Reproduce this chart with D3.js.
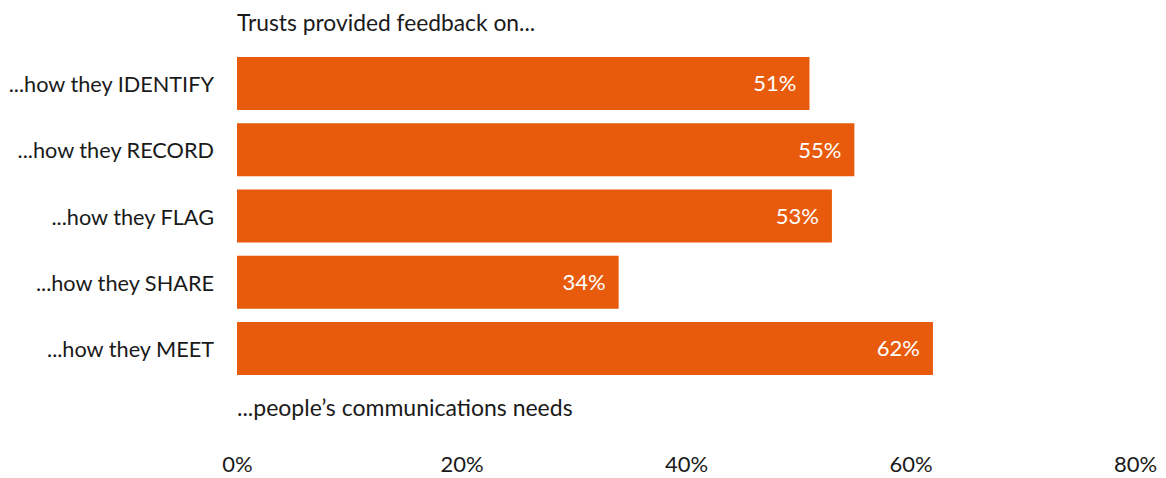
<!DOCTYPE html>
<html><head><meta charset="utf-8">
<script src="https://cdn.jsdelivr.net/npm/d3@7"></script>
<style>
html,body{margin:0;padding:0;background:#fff;}
svg text{font-family:Lato,"Noto Sans",sans-serif;}
</style></head>
<body><svg id="chart" width="1166" height="478"></svg>
<script>
const categories = ["...how they IDENTIFY","...how they RECORD","...how they FLAG","...how they SHARE","...how they MEET"];
const values = [51,55,53,34,62];
const tickValues = [0,20,40,60,80];
const titleText = "Trusts provided feedback on...";
const footText = "...people\u2019s communications needs";

const svg = d3.select("#chart");
const x = d3.scaleLinear().domain([0,80]).range([237,1135]);
const y = d3.scaleBand().domain(categories).range([43.75,388.25]).padding(0.2);
const orange = "#E95B0C";
const fs = 22;

svg.append("text").attr("x",237).attr("y",31).attr("font-size",22.8).attr("fill","#1a1a1a").text(titleText);

svg.selectAll("rect.bar").data(categories).join("rect").attr("class","bar")
  .attr("x",x(0)).attr("y",d=>y(d)).attr("height",y.bandwidth())
  .attr("width",(d,i)=>x(values[i])-x(0)).attr("fill",orange);

svg.selectAll("text.val").data(categories).join("text").attr("class","val")
  .attr("x",(d,i)=>x(values[i])-13).attr("y",d=>y(d)+y.bandwidth()/2)
  .attr("dy","0.36em").attr("text-anchor","end").attr("font-size",fs).attr("fill","#fff")
  .text((d,i)=>values[i]+"%");

svg.selectAll("text.cat").data(categories).join("text").attr("class","cat")
  .attr("x",214).attr("y",d=>y(d)+y.bandwidth()/2)
  .attr("dy","0.4em").attr("text-anchor","end").attr("font-size",21.7).attr("fill","#1a1a1a")
  .text(d=>d);

svg.append("text").attr("x",237).attr("y",416).attr("font-size",23).attr("fill","#1a1a1a").text(footText);

const axis = svg.append("g").attr("transform","translate(0,452)")
  .call(d3.axisBottom(x).tickValues(tickValues).tickSize(0).tickFormat(d=>d+"%"));
axis.select(".domain").remove();
axis.selectAll("text").attr("font-size",fs).attr("fill","#1a1a1a").attr("font-family","Lato, sans-serif").attr("dy","0.71em").attr("y",4);
</script></body></html>
